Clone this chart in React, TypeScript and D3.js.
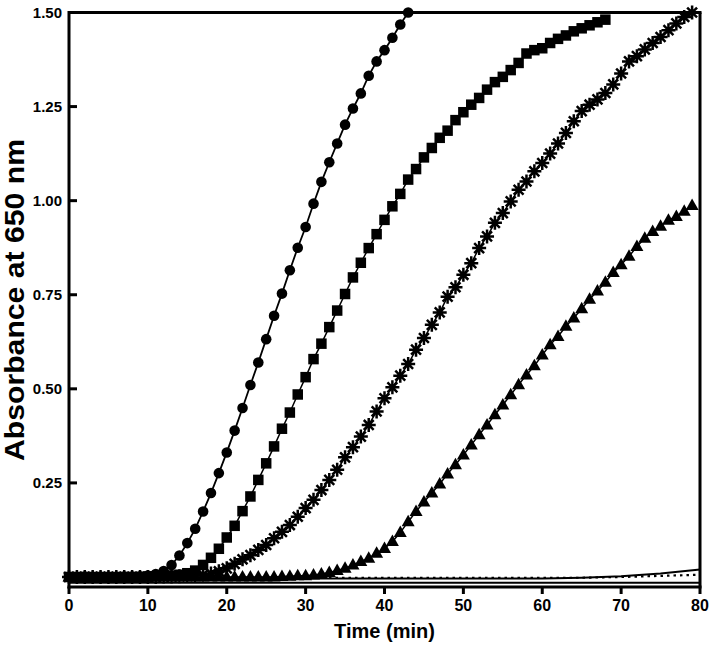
import React from "react";
import * as d3 from "d3";

// Time points (min), one per minute
const circleValues = [
  0, 0, 0.001, 0, 0, 0, 0, 0.001, 0.001, 0.002,
  0.004, 0.008, 0.016, 0.032, 0.057, 0.09, 0.128, 0.174, 0.223, 0.276,
  0.331, 0.389, 0.449, 0.51, 0.57, 0.632, 0.694, 0.753, 0.815, 0.875,
  0.93, 0.992, 1.05, 1.102, 1.152, 1.202, 1.245, 1.285, 1.332, 1.37,
  1.4, 1.433, 1.468, 1.5,
];
const squareValues = [
  0, 0, 0, 0, 0, 0, 0, 0, 0, 0,
  0.001, 0.002, 0.003, 0.004, 0.006, 0.01, 0.017, 0.032, 0.051, 0.075,
  0.105, 0.136, 0.175, 0.214, 0.258, 0.302, 0.347, 0.394, 0.437, 0.485,
  0.531, 0.579, 0.62, 0.664, 0.708, 0.752, 0.796, 0.835, 0.874, 0.911,
  0.949, 0.985, 1.018, 1.056, 1.084, 1.115, 1.14, 1.167, 1.186, 1.214,
  1.235, 1.255, 1.273, 1.295, 1.315, 1.329, 1.347, 1.366, 1.391, 1.4,
  1.405, 1.419, 1.43, 1.439, 1.45, 1.458, 1.466, 1.474, 1.481,
];
const asteriskValues = [
  0, 0, 0, 0, 0, 0, 0, 0, 0, 0,
  0, 0, 0.001, 0.001, 0.002, 0.003, 0.004, 0.006, 0.009, 0.015,
  0.023, 0.035, 0.047, 0.058, 0.072, 0.085, 0.103, 0.12, 0.138, 0.16,
  0.183, 0.205, 0.231, 0.258, 0.285, 0.318, 0.345, 0.373, 0.404, 0.44,
  0.475, 0.504, 0.535, 0.566, 0.604, 0.635, 0.67, 0.703, 0.745, 0.77,
  0.803, 0.834, 0.874, 0.905, 0.941, 0.967, 0.998, 1.029, 1.051, 1.078,
  1.1, 1.125, 1.152, 1.18, 1.211, 1.238, 1.255, 1.269, 1.286, 1.309,
  1.338, 1.37, 1.384, 1.402, 1.419, 1.435, 1.453, 1.471, 1.488, 1.5,
];
const triangleValues = [
  0, 0, 0, 0, 0, 0, 0, 0, 0, 0,
  0, 0, 0, 0, 0, 0, 0, 0, 0, 0,
  0, 0, 0, 0, 0, 0, 0, 0.001, 0.002, 0.003,
  0.003, 0.005, 0.008, 0.012, 0.017, 0.023, 0.032, 0.041, 0.05, 0.063,
  0.076, 0.094, 0.118, 0.147, 0.174, 0.199, 0.223, 0.247, 0.274, 0.298,
  0.324, 0.351, 0.378, 0.404, 0.431, 0.457, 0.484, 0.511, 0.537, 0.561,
  0.59, 0.617, 0.639, 0.666, 0.688, 0.713, 0.738, 0.76, 0.783, 0.809,
  0.83, 0.852, 0.878, 0.9, 0.918, 0.932, 0.948, 0.958, 0.972, 0.987,
];

// Control curves (no markers), sampled every 5 min
const controlTimes = [0, 5, 10, 15, 20, 25, 30, 35, 40, 45, 50, 55, 60, 65, 70, 75, 80];
const controlSolid = [-0.004, -0.004, -0.004, -0.004, -0.004, -0.004, -0.004, -0.004, -0.004, -0.004, -0.004, -0.004, -0.004, -0.002, 0.002, 0.009, 0.02];
const controlDotted = [-0.002, -0.002, -0.002, -0.002, -0.002, -0.002, -0.002, -0.002, -0.002, -0.002, -0.002, -0.002, -0.002, -0.002, 0.0, 0.003, 0.006];
const controlLow = [-0.015, -0.015, -0.015, -0.015, -0.015, -0.015, -0.015, -0.015, -0.015, -0.015, -0.015, -0.015, -0.015, -0.015, -0.015, -0.015, -0.015];

const xTicks = [0, 10, 20, 30, 40, 50, 60, 70, 80];
const yTicks = [0.25, 0.5, 0.75, 1.0, 1.25, 1.5];

const W = 714;
const H = 649;

export default function App() {
  const x = d3.scaleLinear().domain([0, 80]).range([69, 700]);
  const y = d3.scaleLinear().domain([-0.0266, 1.5]).range([587, 12.5]);

  const toPts = (vals: number[]) => vals.map((v, i) => [i, v] as [number, number]);
  const line = d3
    .line<[number, number]>()
    .x((d) => x(d[0]))
    .y((d) => y(d[1]));

  const circles = toPts(circleValues);
  const squares = toPts(squareValues);
  const asterisks = toPts(asteriskValues);
  const triangles = toPts(triangleValues);
  const ctrl = (vals: number[]) => controlTimes.map((t, i) => [t, vals[i]] as [number, number]);

  const font = "Arial, 'Liberation Sans', Helvetica, sans-serif";
  const sq = 10.5;
  const triPath = "M0,-7 L6.5,4.5 L-6.5,4.5 Z";
  const ar = 7;
  const starPath = [0, 45, 90, 135]
    .map((a) => {
      const r = (a * Math.PI) / 180;
      const dx = Math.cos(r) * ar;
      const dy = Math.sin(r) * ar;
      return `M${-dx},${-dy}L${dx},${dy}`;
    })
    .join("");

  return (
    <svg width={W} height={H} style={{ position: "absolute", left: 0, top: 0, background: "#fff" }}>
      <rect width={W} height={H} fill="#fff" />
      {/* control lines */}
      <path d={line(ctrl(controlLow)) || ""} fill="none" stroke="#000" strokeWidth={2} />
      <path d={line(ctrl(controlSolid)) || ""} fill="none" stroke="#000" strokeWidth={2} />
      <path d={line(ctrl(controlDotted)) || ""} fill="none" stroke="#000" strokeWidth={2.2} strokeDasharray="2.5,4" />

      {/* triangles */}
      <path d={line(triangles) || ""} fill="none" stroke="#000" strokeWidth={1.5} />
      {triangles.map((d, i) => (
        <path key={"t" + i} d={triPath} transform={`translate(${x(d[0])},${y(d[1])})`} fill="#000" />
      ))}

      {/* asterisks */}
      <path d={line(asterisks) || ""} fill="none" stroke="#000" strokeWidth={1.5} />
      {asterisks.map((d, i) => (
        <path key={"a" + i} d={starPath} transform={`translate(${x(d[0])},${y(d[1])})`} stroke="#000" strokeWidth={2.5} fill="none" />
      ))}

      {/* squares */}
      <path d={line(squares) || ""} fill="none" stroke="#000" strokeWidth={1.5} />
      {squares.map((d, i) => (
        <rect key={"s" + i} x={x(d[0]) - sq / 2} y={y(d[1]) - sq / 2} width={sq} height={sq} fill="#000" />
      ))}

      {/* circles */}
      <path d={line(circles) || ""} fill="none" stroke="#000" strokeWidth={1.8} />
      {circles.map((d, i) => (
        <circle key={"c" + i} cx={x(d[0])} cy={y(d[1])} r={5.3} fill="#000" />
      ))}

      {/* frame */}
      <line x1={x(0)} x2={x(80) + 1.5} y1={y(1.5)} y2={y(1.5)} stroke="#000" strokeWidth={3} />
      <line x1={x(80)} x2={x(80)} y1={y(1.5)} y2={587} stroke="#000" strokeWidth={3} />
      <line x1={x(0)} x2={x(0)} y1={y(1.5) - 1.5} y2={588.5} stroke="#000" strokeWidth={3} />
      <line x1={x(0) - 1.5} x2={x(80) + 1.5} y1={587} y2={587} stroke="#000" strokeWidth={3} />

      {/* x ticks */}
      {xTicks.map((t) => (
        <g key={"xt" + t}>
          <line x1={x(t)} x2={x(t)} y1={587} y2={594} stroke="#000" strokeWidth={3} />
          <text x={x(t)} y={611} textAnchor="middle" fontFamily={font} fontWeight="bold" fontSize={16} fill="#000">
            {t}
          </text>
        </g>
      ))}

      {/* y ticks */}
      {yTicks.map((t) => (
        <g key={"yt" + t}>
          <line x1={x(0)} x2={x(0) + 8} y1={y(t)} y2={y(t)} stroke="#000" strokeWidth={3} />
          <text x={62} y={y(t)} dy="0.36em" textAnchor="end" fontFamily={font} fontWeight="bold" fontSize={15} fill="#000">
            {t.toFixed(2)}
          </text>
        </g>
      ))}

      {/* axis titles */}
      <text x={x(40)} y={638} textAnchor="middle" fontFamily={font} fontWeight="bold" fontSize={20} fill="#000">
        Time (min)
      </text>
      <text
        transform={`translate(24,300) rotate(-90)`}
        textAnchor="middle"
        fontFamily={font}
        fontWeight="bold"
        fontSize={27}
        textLength={322}
        lengthAdjust="spacingAndGlyphs"
        fill="#000"
      >
        Absorbance at 650 nm
      </text>
    </svg>
  );
}
